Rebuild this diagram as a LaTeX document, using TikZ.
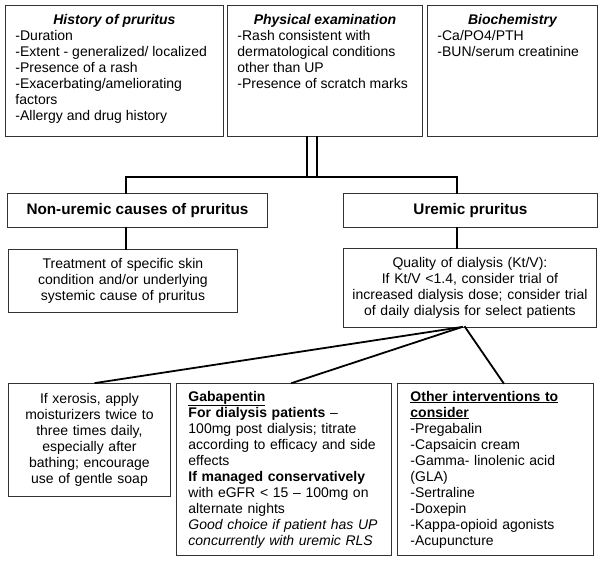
\documentclass[tikz,border=0pt]{standalone}
\usepackage{fontspec}
\setmainfont{Liberation Sans}

\begin{document}
\begin{tikzpicture}[x=1pt, y=-1pt]
\useasboundingbox (0,0) rectangle (602,561);

\begin{scope}[every node/.style={draw=black!80, line width=0.9pt, anchor=north west, inner sep=4pt, font=\fontsize{14}{16}\selectfont}]
    \node (hist) at (5,5) [inner xsep=10pt, inner ysep=9pt] {\parbox[t][113pt][t]{198pt}{%
        {\centering\bfseries\itshape History of pruritus\par}
        -Duration\\
        -Extent - generalized/ localized\\
        -Presence of a rash\\
        -Exacerbating/ameliorating\\
        factors\\
        -Allergy and drug history}};
    \node (phys) at (227,5) [inner xsep=10pt, inner ysep=9pt] {\parbox[t][113pt][t]{175pt}{%
        {\centering\bfseries\itshape Physical examination\par}
        -Rash consistent with\\
        dermatological conditions\\
        other than UP\\
        -Presence of scratch marks}};
    \node (bioc) at (427,5) [inner xsep=10pt, inner ysep=9pt] {\parbox[t][113pt][t]{150pt}{%
        {\centering\bfseries\itshape Biochemistry\par}
        -Ca/PO4/PTH\\
        -BUN/serum creatinine}};

    \node (nonur) at (7,193) [minimum width=260pt, minimum height=34pt, font=\fontsize{15.3}{18}\selectfont\bfseries] {Non-uremic causes of pruritus};
    \node (urem) at (343,193) [minimum width=254pt, minimum height=34pt, font=\fontsize{15.3}{18}\selectfont\bfseries] {Uremic pruritus};

    \node (treat) at (8,249) [text width=221pt, minimum height=63pt, align=center] {Treatment of specific skin\\ condition and/or underlying\\ systemic cause of pruritus};
    \node (qual) at (343,248) [text width=245pt, minimum height=79pt, align=center] {Quality of dialysis (Kt/V):\\ If Kt/V <1.4, consider trial of\\ increased dialysis dose; consider trial\\ of daily dialysis for select patients};

    \node (xero) at (8,383) [text width=154pt, minimum height=113pt, align=center] {If xerosis, apply\\ moisturizers twice to\\ three times daily,\\ especially after\\ bathing; encourage\\ use of gentle soap};
    \node (gaba) at (176,383) [inner xsep=12pt, text width=191pt, minimum height=172pt, align=left] {\underline{\textbf{Gabapentin}}\\
        \textbf{For dialysis patients} –\\
        100mg post dialysis; titrate\\
        according to efficacy and side\\
        effects\\
        \textbf{If managed conservatively}\\
        with eGFR < 15 – 100mg on\\
        alternate nights\\
        \textit{Good choice if patient has UP}\\
        \textit{concurrently with uremic RLS}};
    \node (other) at (397,383) [inner xsep=13pt, text width=170pt, minimum height=172pt, align=left] {\underline{\textbf{Other interventions to}}\\
        \underline{\textbf{consider}}\\
        -Pregabalin\\
        -Capsaicin cream\\
        -Gamma- linolenic acid\\
        (GLA)\\
        -Sertraline\\
        -Doxepin\\
        -Kappa-opioid agonists\\
        -Acupuncture};
\end{scope}

\coordinate (dl) at (307,177);
\coordinate (dr) at (317,177);
\coordinate (lbr) at (126,177);
\coordinate (rbr) at (457,177);
\coordinate (fan) at (462,327);

\begin{scope}[every edge/.style={draw=black, line width=1.8pt, line cap=rect}]
    \path (dl |- phys.south) edge (dl);
    \path (dr |- phys.south) edge (dr);
    \path (lbr) edge (rbr);
    \path (lbr) edge (lbr |- nonur.north);
    \path (rbr) edge (rbr |- urem.north);

    \path (lbr |- nonur.south) edge (lbr |- treat.north);
    \path (rbr |- urem.south) edge (rbr |- qual.north);

    \path (fan) edge ([xshift=6pt]xero.north);
    \path (fan) edge ([xshift=8pt]gaba.north);
    \path ([xshift=3pt]fan) edge ([xshift=8pt]other.north);
\end{scope}

\end{tikzpicture}
\end{document}
